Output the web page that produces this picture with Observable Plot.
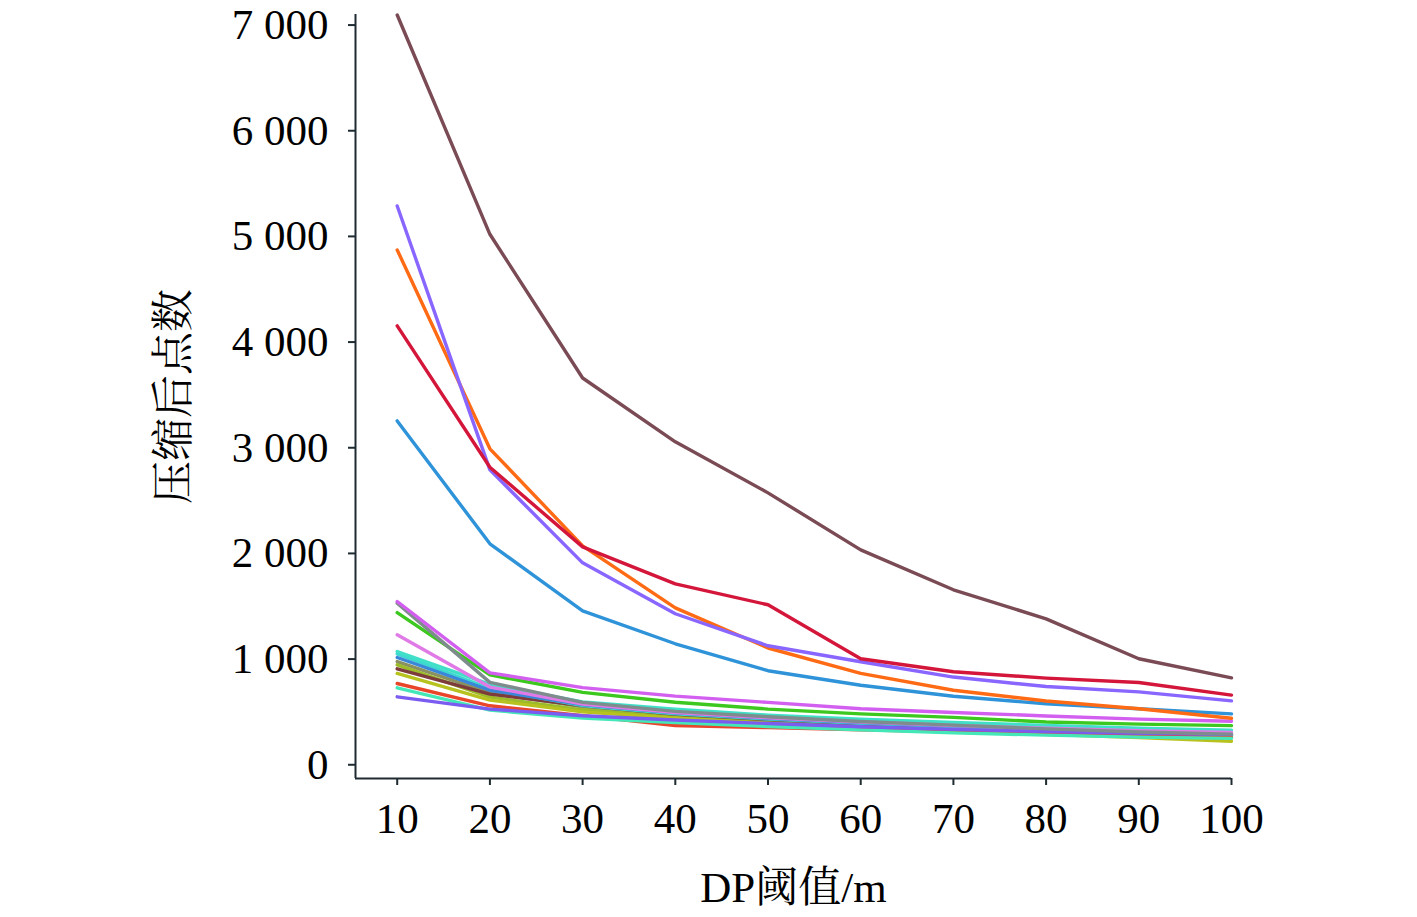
<!DOCTYPE html>
<html><head><meta charset="utf-8">
<script src="https://cdn.jsdelivr.net/npm/d3@7"></script>
<script src="https://cdn.jsdelivr.net/npm/@observablehq/plot@0.6"></script>
<style>html,body{margin:0;padding:0;background:#fff} #chart svg{display:block}</style>
</head><body><div id="chart"></div>
<script>
// x categories: DP threshold (m)
const thresholds = [10, 20, 30, 40, 50, 60, 70, 80, 90, 100];
const yTicks = [0, 1000, 2000, 3000, 4000, 5000, 6000, 7000];

// large series
const sBrown  = [7095, 5020, 3660, 3056, 2573, 2034, 1656, 1381, 1003, 823];
const sPurple = [5288, 2791, 1911, 1429, 1126, 975, 830, 740, 690, 605];
const sOrange = [4872, 2990, 2072, 1485, 1105, 865, 705, 603, 530, 440];
const sRed    = [4153, 2815, 2062, 1712, 1514, 1003, 880, 820, 779, 659];
const sBlue   = [3254, 2091, 1457, 1145, 890, 752, 648, 577, 530, 482];

// cluster series
const cMagenta    = [1545, 870, 730, 650, 590, 530, 495, 462, 432, 412];
const cGray       = [1530, 780, 590, 505, 455, 410, 375, 340, 310, 290];
const cGreen      = [1440, 850, 685, 592, 527, 482, 448, 405, 385, 370];
const cOrchid     = [1230, 735, 575, 495, 445, 405, 372, 345, 322, 305];
const cTurq1      = [1072, 760, 595, 527, 470, 432, 400, 372, 345, 328];
const cTurq2      = [1050, 720, 560, 482, 432, 392, 362, 335, 305, 280];
const cBlue       = [1015, 705, 570, 492, 440, 400, 368, 340, 318, 300];
const cOliveGray  = [977, 680, 548, 470, 420, 380, 350, 322, 300, 282];
const cOlive      = [946, 640, 520, 452, 402, 362, 332, 305, 282, 262];
const cBrown      = [908, 669, 560, 478, 428, 388, 355, 328, 302, 282];
const cYellowGrn  = [864, 612, 500, 440, 388, 350, 318, 288, 258, 222];
const cOrangeRed  = [769, 558, 465, 372, 352, 332, 312, 292, 272, 256];
const cTurq3      = [728, 517, 442, 400, 362, 330, 302, 280, 262, 250];
const cPurple     = [643, 527, 464, 423, 390, 360, 335, 315, 298, 288];

const seriesList = [
  ["cGreen", cGreen, "#3cc81e"],
  ["cOliveGray", cOliveGray, "#8a9060"],
  ["cOlive", cOlive, "#9cbb2a"],
  ["cBrown", cBrown, "#7d3b3b"],
  ["cTurq2", cTurq2, "#3fd8d0"],
  ["cBlue", cBlue, "#3a86d8"],
  ["cTurq1", cTurq1, "#40e0c8"],
  ["cYellowGrn", cYellowGrn, "#b8c21e"],
  ["cOrangeRed", cOrangeRed, "#e8452a"],
  ["cTurq3", cTurq3, "#44e8b8"],
  ["cPurple", cPurple, "#7b5cf0"],
  ["cOrchid", cOrchid, "#e07ae6"],
  ["cGray", cGray, "#7f8c8d"],
  ["cMagenta", cMagenta, "#d35ff0"],
  ["sBlue", sBlue, "#2e93d8"],
  ["sOrange", sOrange, "#ff6a14"],
  ["sPurple", sPurple, "#8866ff"],
  ["sRed", sRed, "#d3163a"],
  ["sBrown", sBrown, "#7a4b55"]
];

const rows = seriesList.flatMap(([name, vals, color]) =>
  vals.map((v, i) => ({series: name, x: thresholds[i], y: v, color})));

const axisColor = "#1e2b30";
const fmt = v => v >= 1000 ? `${Math.floor(v / 1000)} ${String(v % 1000).padStart(3, "0")}` : String(v);

const chart = Plot.plot({
  width: 1417, height: 917,
  marginLeft: 355, marginRight: 186, marginTop: 14, marginBottom: 139,
  x: {domain: [5.5, 100]},
  y: {domain: [-130, 7100]},
  style: {fontFamily: "'Liberation Serif','Times New Roman','Noto Serif CJK SC','Noto Sans CJK SC',serif", fontSize: "43px", color: "#000", background: "#fff"},
  marks: [
    Plot.ruleX([5.5], {stroke: axisColor, strokeWidth: 2}),
    Plot.ruleY([-130], {stroke: axisColor, strokeWidth: 2}),
    Plot.axisY({ticks: yTicks, tickSize: 7, tickPadding: 20, tickFormat: fmt, stroke: axisColor, strokeWidth: 2,
      label: "压缩后点数", labelAnchor: "center", labelArrow: "none", labelOffset: 198}),
    Plot.axisX({ticks: thresholds, tickSize: 7, tickPadding: 17, tickFormat: d => String(d), stroke: axisColor, strokeWidth: 2,
      label: "DP阈值/m", labelAnchor: "center", labelArrow: "none", labelOffset: 123}),
    Plot.line(rows, {x: "x", y: "y", z: "series", stroke: "color", strokeWidth: 3.4, strokeLinejoin: "round"})
  ]
});
document.getElementById("chart").appendChild(chart);
</script>
</body></html>
